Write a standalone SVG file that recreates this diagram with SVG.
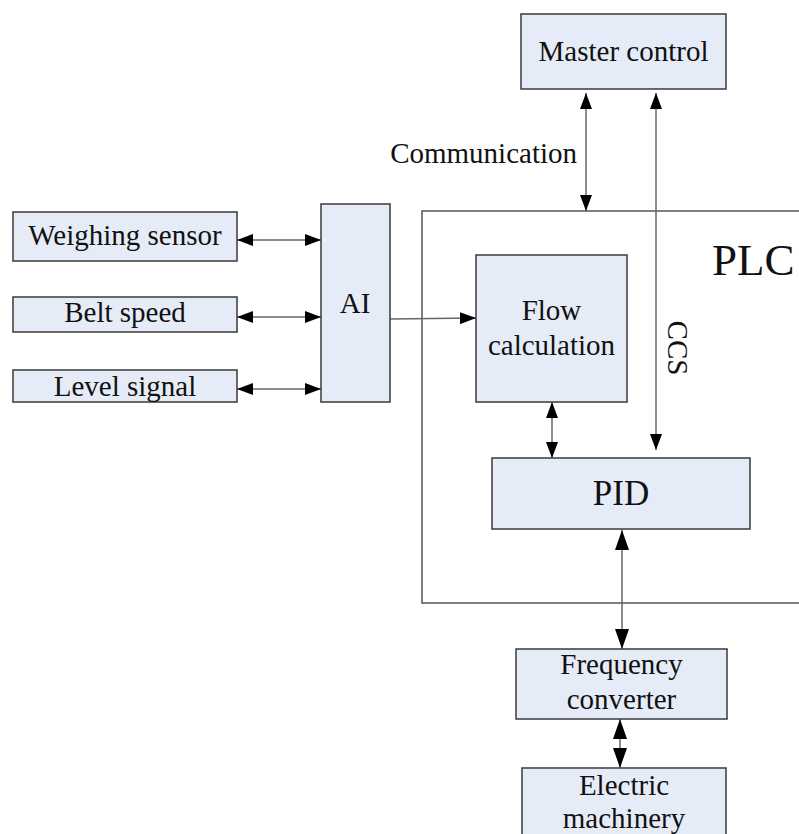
<svg xmlns="http://www.w3.org/2000/svg" width="799" height="834" viewBox="0 0 799 834" font-family="'Liberation Serif', 'Times New Roman', 'DejaVu Serif', serif">
  <style>
    .box { fill: #E6ECF7; stroke: #3a3a3a; stroke-width: 1.5; }
    .frame { fill: none; stroke: #555; stroke-width: 1.5; }
    .wire { fill: none; stroke: #666; stroke-width: 1.5; }
    .lbl { font-family: 'Liberation Serif', 'Times New Roman', 'DejaVu Serif', serif; font-size: 29px; fill: #111; text-anchor: middle; }
    .big { font-size: 35px; }
    .huge { font-size: 45px; text-anchor: start; }
    .end { text-anchor: end; }
  </style>
  <defs>
    <marker id="head" viewBox="0 0 16 12" refX="16" refY="6" markerWidth="16" markerHeight="12" markerUnits="userSpaceOnUse" orient="auto-start-reverse">
      <path d="M0,0 L16,6 L0,12 z" fill="#000"/>
    </marker>
    <marker id="bighead" viewBox="0 0 20 14" refX="20" refY="7" markerWidth="20" markerHeight="14" markerUnits="userSpaceOnUse" orient="auto-start-reverse">
      <path d="M0,0 L20,7 L0,14 z" fill="#000"/>
    </marker>
  </defs>

  <rect width="799" height="834" fill="#fff"/>

  <g id="plc">
    <rect class="frame" x="422" y="211" width="390" height="392"/>
    <text class="lbl huge" x="712" y="275">PLC</text>
  </g>

  <g id="connectors">
    <line class="wire" x1="237" y1="240" x2="321" y2="240" marker-start="url(#head)" marker-end="url(#head)"/>
    <line class="wire" x1="237" y1="317" x2="321" y2="317" marker-start="url(#head)" marker-end="url(#head)"/>
    <line class="wire" x1="237" y1="389" x2="321" y2="389" marker-start="url(#head)" marker-end="url(#head)"/>
    <line class="wire" x1="390" y1="319" x2="476" y2="318" marker-end="url(#head)"/>
    <line class="wire" x1="586" y1="93" x2="586" y2="211" marker-start="url(#head)" marker-end="url(#head)"/>
    <line class="wire" x1="656" y1="93" x2="656" y2="450" marker-start="url(#head)" marker-end="url(#head)"/>
    <line class="wire" x1="552" y1="402" x2="552" y2="458" marker-start="url(#head)" marker-end="url(#head)"/>
    <line class="wire" x1="622" y1="530" x2="622" y2="649" marker-start="url(#bighead)" marker-end="url(#bighead)"/>
    <line class="wire" x1="620" y1="719" x2="620" y2="768" marker-start="url(#bighead)" marker-end="url(#bighead)"/>
    <text class="lbl end" x="577" y="163">Communication</text>
    <text class="lbl" x="668" y="348" transform="rotate(90 668 348)">CCS</text>
  </g>

  <g id="master-control">
    <rect class="box" x="521" y="14" width="205" height="75"/>
    <text class="lbl" x="623.5" y="61">Master control</text>
  </g>

  <g id="weighing-sensor">
    <rect class="box" x="13" y="212" width="224" height="49"/>
    <text class="lbl" x="125" y="245">Weighing sensor</text>
  </g>

  <g id="belt-speed">
    <rect class="box" x="13" y="297" width="224" height="35"/>
    <text class="lbl" x="125" y="322">Belt speed</text>
  </g>

  <g id="level-signal">
    <rect class="box" x="13" y="370" width="224" height="32"/>
    <text class="lbl" x="125" y="396">Level signal</text>
  </g>

  <g id="ai">
    <rect class="box" x="321" y="204" width="69" height="198"/>
    <text class="lbl" x="355" y="313">AI</text>
  </g>

  <g id="flow-calculation">
    <rect class="box" x="476" y="255" width="151" height="147"/>
    <text class="lbl" x="551.5" y="320">Flow</text>
    <text class="lbl" x="551.5" y="355">calculation</text>
  </g>

  <g id="pid">
    <rect class="box" x="492" y="458" width="258" height="71"/>
    <text class="lbl big" x="621" y="505">PID</text>
  </g>

  <g id="frequency-converter">
    <rect class="box" x="516" y="649" width="211" height="70"/>
    <text class="lbl" x="621.5" y="674">Frequency</text>
    <text class="lbl" x="621.5" y="709">converter</text>
  </g>

  <g id="electric-machinery">
    <rect class="box" x="522" y="768" width="204" height="80"/>
    <text class="lbl" x="624" y="795">Electric</text>
    <text class="lbl" x="624" y="828">machinery</text>
  </g>
</svg>
